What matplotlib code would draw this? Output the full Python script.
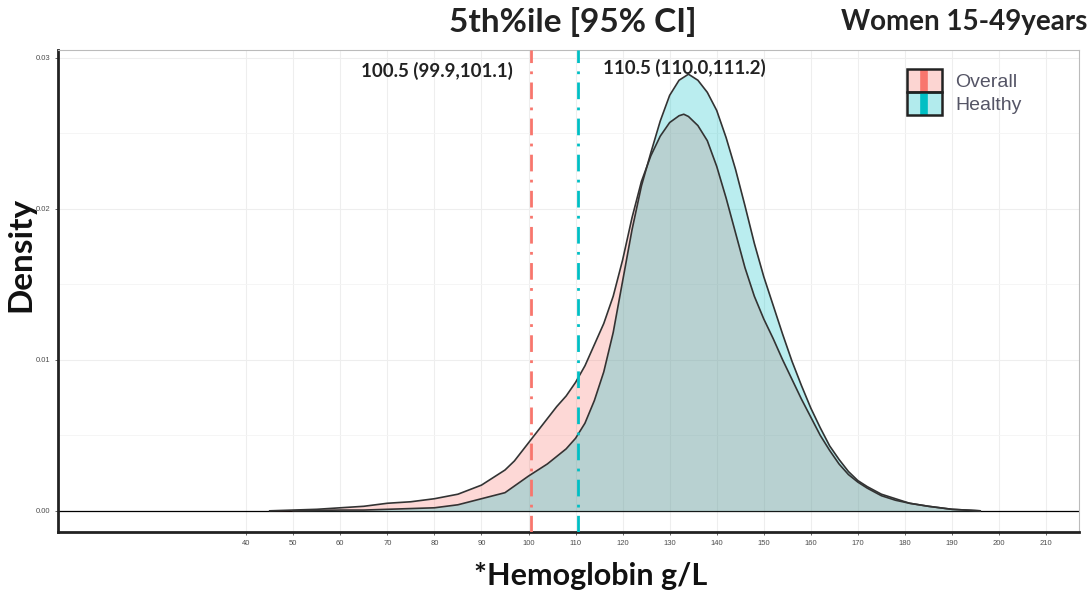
import matplotlib
matplotlib.use("Agg")
import matplotlib.pyplot as plt
from matplotlib.patches import Patch, Rectangle
from matplotlib.lines import Line2D
from matplotlib.legend_handler import HandlerBase
from matplotlib.ticker import MultipleLocator

# ---- data ----
overall_x = [45, 50, 55, 60, 65, 70, 75, 80, 85, 90, 95, 97, 100, 102, 104, 106, 108, 110,
             112, 114, 116, 118, 120, 122, 124, 126, 128, 130, 132, 133, 134, 136, 138, 140,
             142, 144, 146, 148, 150, 152, 154, 156, 158, 160, 162, 164, 166, 168, 170, 172,
             175, 178, 181, 185, 190, 196]
overall_y = [0.0, 0.00005, 0.0001, 0.0002, 0.0003, 0.0005, 0.0006, 0.0008, 0.0011, 0.0017,
             0.0027, 0.0033, 0.0045, 0.0053, 0.0061, 0.0069, 0.0076, 0.0085,
             0.0096, 0.0110, 0.0124, 0.0142, 0.0166, 0.0194, 0.0218, 0.0235, 0.0248, 0.0257,
             0.02615, 0.02625, 0.0261, 0.0255, 0.0245, 0.0228,
             0.0207, 0.0184, 0.0161, 0.0142, 0.0127, 0.0114, 0.0100, 0.0087, 0.0074, 0.0062,
             0.0050, 0.0040, 0.0031, 0.0024, 0.0019, 0.0015,
             0.0010, 0.0007, 0.0005, 0.0003, 0.0001, 0.0]

healthy_x = [50, 55, 60, 65, 70, 75, 80, 85, 90, 95, 100, 102, 104, 106, 108, 110, 112, 114,
             116, 118, 120, 122, 124, 126, 128, 130, 132, 134, 136, 138, 140, 142, 144, 146,
             148, 150, 152, 154, 156, 158, 160, 162, 164, 166, 168, 170, 172, 175, 178, 181,
             185, 190, 196]
healthy_y = [0.0, 0.00003, 0.00005, 0.00005, 0.0001, 0.00015, 0.0002, 0.0004, 0.0008, 0.0012,
             0.0023, 0.0027, 0.0031, 0.0036, 0.0041, 0.0048, 0.0058, 0.0073,
             0.0092, 0.0118, 0.0152, 0.0186, 0.0215, 0.0237, 0.0258, 0.0275, 0.0285, 0.0289,
             0.0285, 0.0277, 0.0265, 0.0247, 0.0226, 0.0202,
             0.0177, 0.0155, 0.0136, 0.0117, 0.0099, 0.0083, 0.0068, 0.0055, 0.0043, 0.0034,
             0.0026, 0.0020, 0.0016, 0.0011, 0.0008, 0.0005,
             0.0003, 0.0001, 0.0]

p5_overall = 100.5
p5_healthy = 110.5
label_overall = "100.5 (99.9,101.1)"
label_healthy = "110.5 (110.0,111.2)"
series_names = ["Overall", "Healthy"]
x_ticks = list(range(40, 220, 10))
y_ticks = [0.00, 0.01, 0.02, 0.03]

RED = "#F8766D"
CYAN = "#00BFC4"

plt.rcParams['font.family'] = ['Lato', 'DejaVu Sans']


class KeyHandler(HandlerBase):
    def create_artists(self, legend, orig_handle, xdescent, ydescent, width, height,
                       fontsize, trans):
        c = orig_handle.get_facecolor()
        x0, y0 = -xdescent, -ydescent
        fill = Rectangle((x0, y0), width, height, facecolor=c, alpha=0.3,
                         edgecolor='none', transform=trans)
        line = Line2D([x0 + width / 2] * 2, [y0, y0 + height], color=c, lw=5.5,
                      transform=trans, solid_capstyle='butt')
        frame = Rectangle((x0, y0), width, height, facecolor='none',
                          edgecolor='#222222', lw=1.8, transform=trans)
        return [fill, line, frame]


fig = plt.figure(figsize=(10.92, 5.92), dpi=100)
ax = fig.add_axes([0.0531, 0.1014, 0.935, 0.8141])

ax.set_xlim(0, 217)
ax.set_ylim(-0.0014, 0.0305)

ax.set_xticks(x_ticks)
ax.set_yticks(y_ticks)
ax.yaxis.set_minor_locator(MultipleLocator(0.005))
ax.grid(True, which='major', color='#EEEEEE', lw=0.8)
ax.grid(True, which='minor', axis='y', color='#F4F4F4', lw=0.6)
ax.tick_params(which='minor', length=0)
ax.set_axisbelow(True)

ax.axhline(0, color='black', lw=0.9, zorder=1.5)

ax.fill_between(overall_x, overall_y, color=RED, alpha=0.28, lw=0, zorder=2)
ax.plot(overall_x, overall_y, color='#333333', lw=1.2, zorder=3)
ax.fill_between(healthy_x, healthy_y, color=CYAN, alpha=0.27, lw=0, zorder=2.1)
ax.plot(healthy_x, healthy_y, color='#333333', lw=1.2, zorder=3)

ax.axvline(p5_overall, color=RED, lw=2.0, ls=(0, (6, 3, 1, 3)), zorder=4)
ax.axvline(p5_healthy, color=CYAN, lw=2.0, ls=(0, (6, 3, 1, 3)), zorder=4)

ax.text(96.7, 0.0291, label_overall, ha='right', va='center', fontsize=13.5,
        fontweight='bold', color='#222222')
ax.text(115.9, 0.0293, label_healthy, ha='left', va='center', fontsize=13.5,
        fontweight='bold', color='#222222')

for s in ['top', 'right']:
    ax.spines[s].set_color('#BBBBBB')
    ax.spines[s].set_linewidth(0.8)
for s in ['left', 'bottom']:
    ax.spines[s].set_color('#222222')
    ax.spines[s].set_linewidth(2.0)

ax.tick_params(axis='both', which='major', labelsize=5.5, colors='#4D4D4D',
               length=2, width=0.6)
ax.set_yticklabels([f"{v:.2f}" for v in y_ticks])
for lab in ax.get_xticklabels() + ax.get_yticklabels():
    lab.set_family(['Liberation Sans', 'DejaVu Sans'])

ax.set_ylabel("Density", fontsize=24, fontweight='bold', color='#111111')
ax.yaxis.set_label_coords(-0.0225, 0.575)
ax.set_xlabel("*Hemoglobin g/L", fontsize=22, fontweight='bold', color='#111111')
ax.xaxis.set_label_coords(0.522, -0.062)

fig.text(0.525, 0.963, "5th%ile [95% CI]", ha='center', va='center', fontsize=24,
         fontweight='bold', color='#222222')
fig.text(0.996, 0.963, "Women 15-49years", ha='right', va='center', fontsize=20,
         fontweight='bold', color='#222222')

handles = [Patch(facecolor=RED), Patch(facecolor=CYAN)]
leg = ax.legend(handles, series_names, handler_map={Patch: KeyHandler()},
                loc='upper left', bbox_to_anchor=(0.8315, 0.9606), frameon=False,
                prop={'family': ['Liberation Sans', 'DejaVu Sans'], 'size': 14},
                handlelength=1.8, handleheight=1.45, labelspacing=0.0,
                handletextpad=0.7, borderpad=0, borderaxespad=0)
for t in leg.get_texts():
    t.set_color('#555566')

fig.savefig("out.png", dpi=100)
